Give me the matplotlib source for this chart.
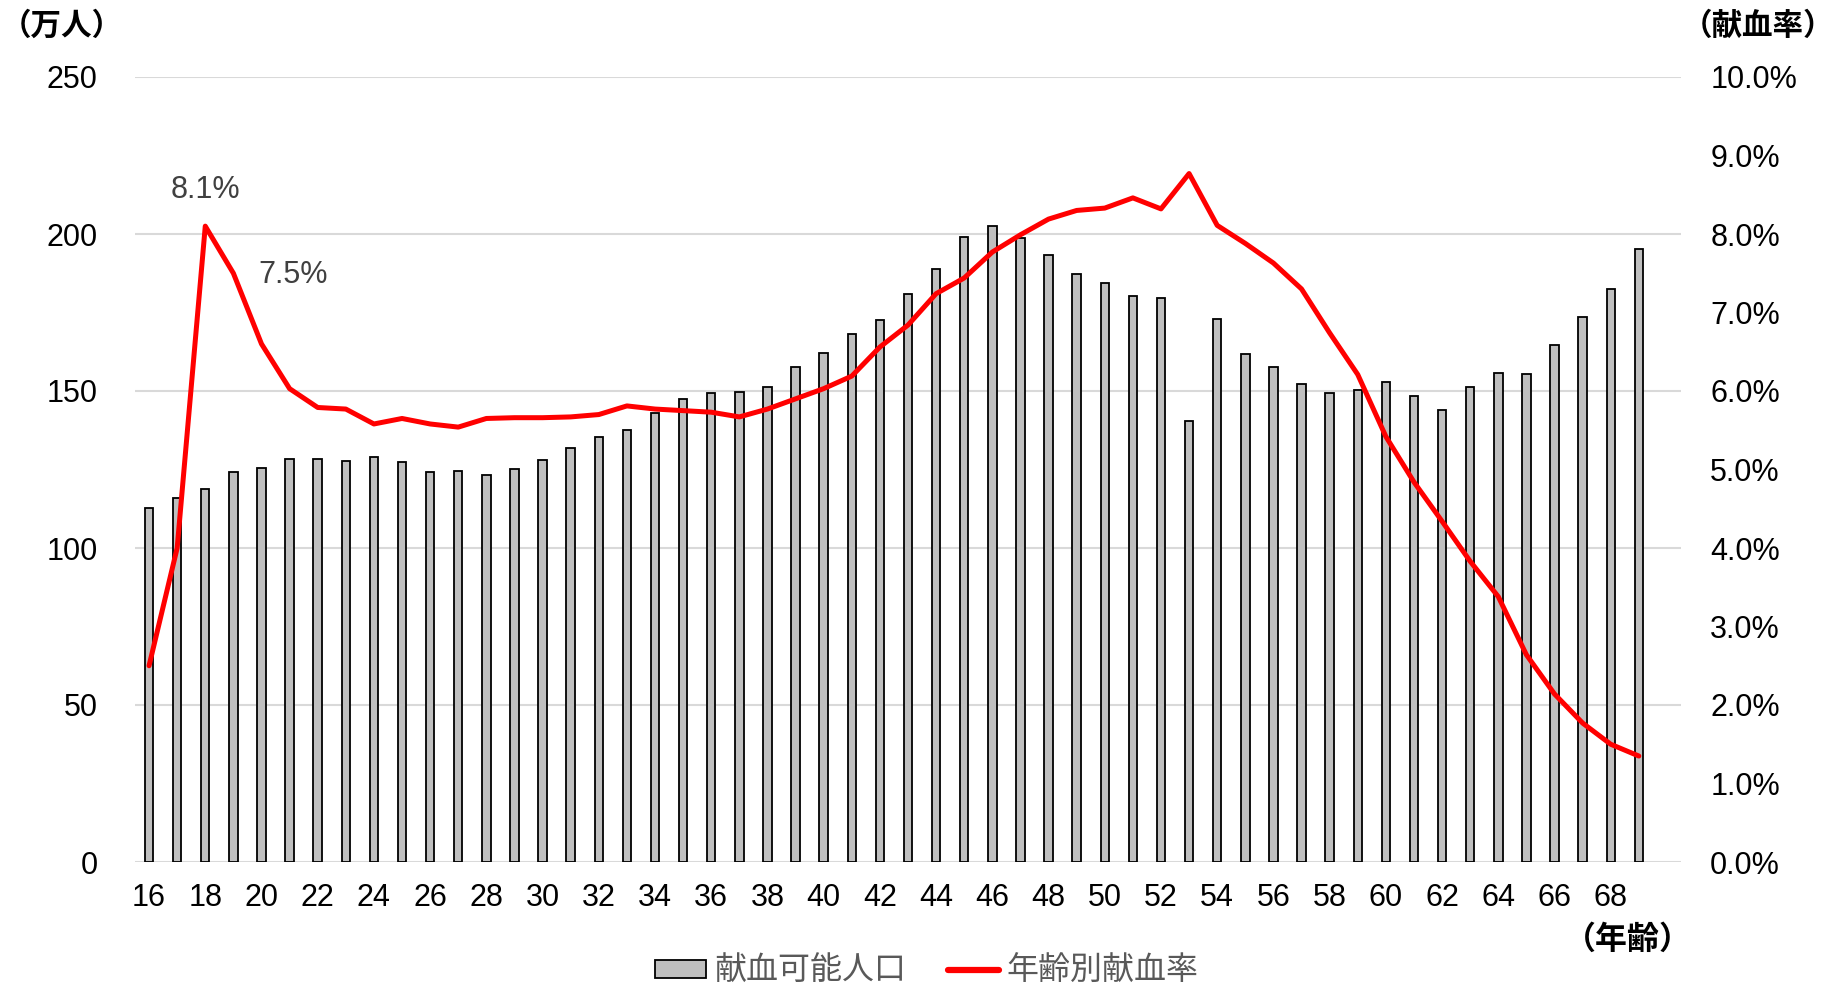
import matplotlib
matplotlib.use("Agg")
import matplotlib.pyplot as plt
from matplotlib.patches import Patch
from matplotlib.lines import Line2D
from matplotlib.ticker import FuncFormatter

plt.rcParams['font.family'] = ['Liberation Sans', 'Noto Sans CJK JP', 'DejaVu Sans']

ages = list(range(16, 70))
population = [112.6, 116.0, 118.9, 124.3, 125.5, 128.5, 128.3, 127.6, 129.1, 127.4,
              124.1, 124.4, 123.4, 125.3, 127.9, 131.9, 135.5, 137.6, 142.9, 147.5,
              149.5, 149.7, 151.3, 157.7, 162.0, 168.2, 172.7, 180.8, 188.9, 199.1,
              202.5, 198.6, 193.3, 187.3, 184.4, 180.2, 179.5, 140.4, 172.9, 161.9,
              157.6, 152.1, 149.5, 150.3, 152.8, 148.4, 144.0, 151.2, 155.8, 155.3,
              164.6, 173.5, 182.6, 195.1]
rate = [2.5, 4.0, 8.1, 7.5, 6.6, 6.03, 5.79, 5.77, 5.58, 5.65,
        5.58, 5.54, 5.65, 5.66, 5.66, 5.67, 5.70, 5.81, 5.77, 5.75,
        5.73, 5.67, 5.77, 5.90, 6.03, 6.19, 6.56, 6.84, 7.24, 7.44,
        7.77, 7.99, 8.19, 8.30, 8.33, 8.46, 8.32, 8.77, 8.11, 7.88,
        7.63, 7.30, 6.74, 6.21, 5.42, 4.84, 4.34, 3.83, 3.38, 2.64,
        2.14, 1.77, 1.50, 1.35]
xtick_ages = list(range(16, 70, 2))
left_ticks = [0, 50, 100, 150, 200, 250]
right_ticks = [0, 1, 2, 3, 4, 5, 6, 7, 8, 9, 10]
annot_ages = [18, 19]
annot_texts = ['8.1%', '7.5%']

series_bar = '献血可能人口'
series_line = '年齢別献血率'

W, H = 1835, 986
fig = plt.figure(figsize=(W / 100, H / 100), dpi=100)
ax = fig.add_axes([135 / W, (H - 862) / H, 1546 / W, 785 / H])
ax2 = ax.twinx()

bar_fc = '#BFBFBF'
ax.bar(ages, population, width=0.3, color=bar_fc, edgecolor='black', linewidth=1.3, zorder=3)
ax.set_xlim(15.5, 70.5)
ax.set_ylim(0, 250)
ax.set_yticks(left_ticks)
ax.yaxis.grid(True, color='#D9D9D9', linewidth=1.5, zorder=0)
ax.set_axisbelow(True)
ax.set_xticks(xtick_ages)
ax.set_xticklabels([str(a) for a in xtick_ages])
ax.tick_params(axis='x', length=0, pad=15, labelsize=22, colors='black')
ax.tick_params(axis='y', length=0, pad=27, labelsize=22, colors='black')

red = '#FF0000'
ax2.plot(ages, rate, color=red, linewidth=3.6, solid_joinstyle='round',
         solid_capstyle='round', zorder=5)
ax2.set_ylim(0, 10)
ax2.set_yticks(right_ticks)
ax2.yaxis.set_major_formatter(FuncFormatter(lambda v, p: f'{v:.1f}%'))
ax2.tick_params(axis='y', length=0, pad=21, labelsize=22, colors='black')

for a in (ax, ax2):
    for s in a.spines.values():
        s.set_visible(False)

# annotations
ax2.annotate(annot_texts[0], xy=(annot_ages[0], rate[ages.index(annot_ages[0])]),
             xytext=(0, 26), textcoords='offset points', ha='center', va='center',
             fontsize=22, color='#404040')
ax2.annotate(annot_texts[1], xy=(annot_ages[1], rate[ages.index(annot_ages[1])]),
             xytext=(43, -1), textcoords='offset points', ha='center', va='center',
             fontsize=22, color='#404040')

cjk = ['Noto Sans CJK JP', 'DejaVu Sans']
fig.text(1 / W, 1 - 26 / H, '（万人）', ha='left', va='center', fontsize=22,
         fontweight='bold', family=cjk, color='black')
fig.text(1834 / W, 1 - 26 / H, '（献血率）', ha='right', va='center', fontsize=22,
         fontweight='bold', family=cjk, color='black')
fig.text(1628 / W, 1 - 940 / H, '（年齢）', ha='center', va='center', fontsize=23,
         fontweight='bold', family=cjk, color='black')

handles = [Patch(facecolor=bar_fc, edgecolor='black', linewidth=1.3),
           Line2D([0], [0], color=red, linewidth=4.5, solid_capstyle='round')]
leg = fig.legend(handles, [series_bar, series_line], loc='center',
                 bbox_to_anchor=(927 / W, 1 - 971 / H), ncol=2, frameon=False,
                 prop={'family': cjk, 'size': 23}, handlelength=1.6,
                 handleheight=0.5, handletextpad=0.25, columnspacing=1.3,
                 borderaxespad=0, borderpad=0)
for t in leg.get_texts():
    t.set_color('#595959')

fig.savefig('out.png', dpi=100, facecolor='white')
